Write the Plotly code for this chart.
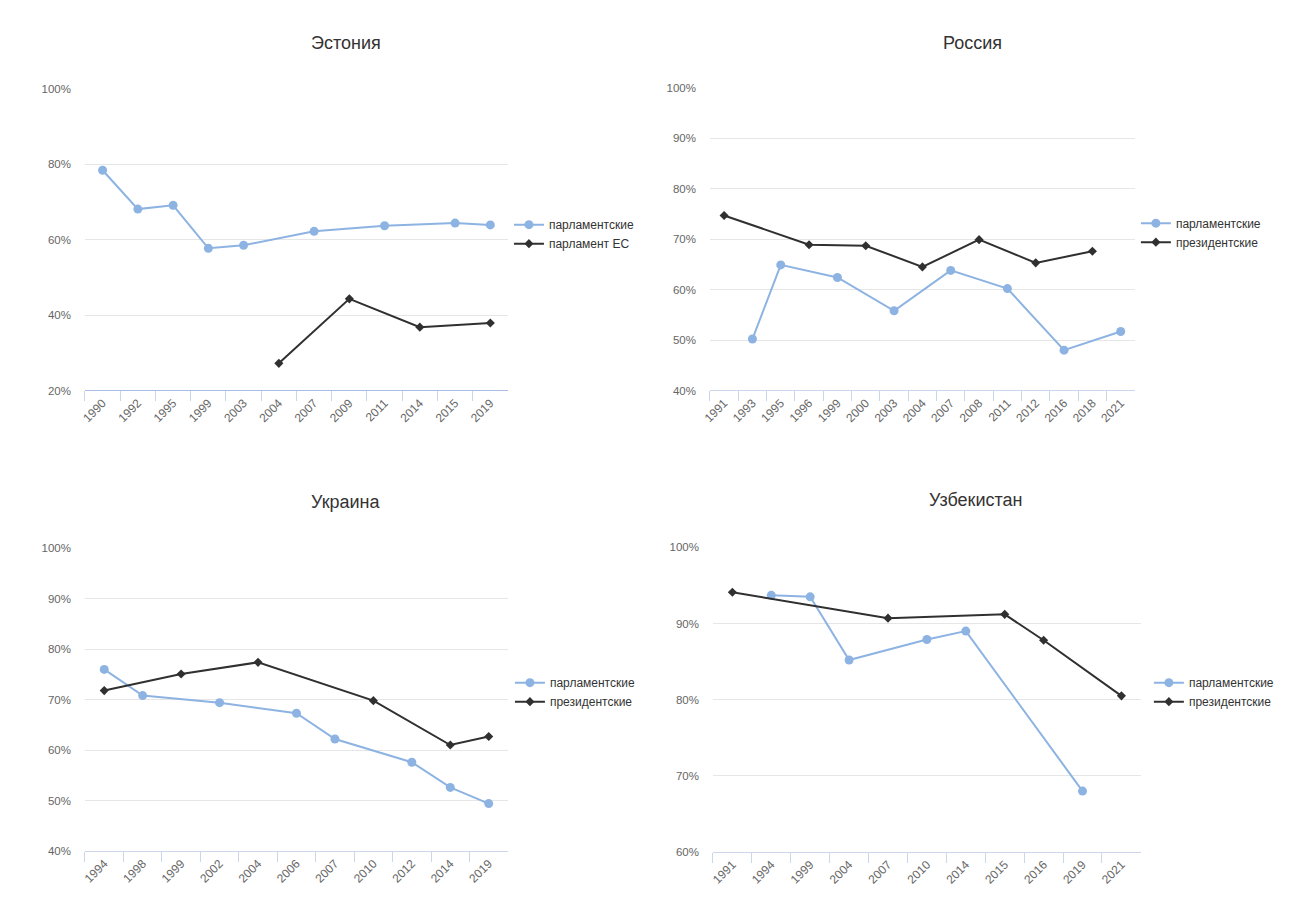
import plotly.graph_objects as go

# ---------------- data ----------------
est_years = ["1990", "1992", "1995", "1999", "2003", "2004", "2007", "2009", "2011", "2014", "2015", "2019"]
est_parl_x = ["1990", "1992", "1995", "1999", "2003", "2007", "2011", "2015", "2019"]
est_parl_y = [78.4, 68.1, 69.1, 57.7, 58.5, 62.2, 63.7, 64.4, 63.9]
est_eu_x = ["2004", "2009", "2014", "2019"]
est_eu_y = [27.2, 44.3, 36.8, 37.9]

rus_years = ["1991", "1993", "1995", "1996", "1999", "2000", "2003", "2004", "2007", "2008", "2011", "2012", "2016", "2018", "2021"]
rus_parl_x = ["1993", "1995", "1999", "2003", "2007", "2011", "2016", "2021"]
rus_parl_y = [50.2, 64.9, 62.4, 55.8, 63.8, 60.2, 48.0, 51.7]
rus_pres_x = ["1991", "1996", "2000", "2004", "2008", "2012", "2018"]
rus_pres_y = [74.7, 68.9, 68.7, 64.5, 69.9, 65.3, 67.6]

ukr_years = ["1994", "1998", "1999", "2002", "2004", "2006", "2007", "2010", "2012", "2014", "2019"]
ukr_parl_x = ["1994", "1998", "2002", "2006", "2007", "2012", "2014", "2019"]
ukr_parl_y = [76.0, 70.8, 69.4, 67.3, 62.2, 57.6, 52.6, 49.4]
ukr_pres_x = ["1994", "1999", "2004", "2010", "2014", "2019"]
ukr_pres_y = [71.8, 75.1, 77.4, 69.8, 61.0, 62.7]

uzb_years = ["1991", "1994", "1999", "2004", "2007", "2010", "2014", "2015", "2016", "2019", "2021"]
uzb_parl_x = ["1994", "1999", "2004", "2010", "2014", "2019"]
uzb_parl_y = [93.7, 93.5, 85.2, 87.9, 89.0, 68.0]
uzb_pres_x = ["1991", "2007", "2015", "2016", "2021"]
uzb_pres_y = [94.1, 90.7, 91.2, 87.8, 80.5]

titles = ["Эстония", "Россия", "Украина", "Узбекистан"]
name_parl = "парламентские"
name_eu = "парламент ЕС"
name_pres = "президентские"

# ---------------- styling ----------------
W, H = 1311, 919
BLUE = "#8db3e2"
DARK = "#303030"
FONT = "Liberation Sans, Arial, sans-serif"


# pixel position on the photographed page -> paper coordinate
def px_x(p):
    return ((p - 8.0) / 0.994) / W


def px_y(p):
    return 1 - ((p - 5.1) / 0.988) / H


panels = [
    dict(years=est_years,
         series=[(est_parl_x, est_parl_y, name_parl, "blue"), (est_eu_x, est_eu_y, name_eu, "dark")],
         xd=(85, 508), yd=(88, 390), yr=(20, 100), dt=20, tpos=(346, 42), lpos=(509, 233.5),
         axcolor="#a9bde5"),
    dict(years=rus_years,
         series=[(rus_parl_x, rus_parl_y, name_parl, "blue"), (rus_pres_x, rus_pres_y, name_pres, "dark")],
         xd=(710, 1135), yd=(87, 390), yr=(40, 100), dt=10, tpos=(973, 42), lpos=(1136, 232),
         axcolor="#ccd6eb"),
    dict(years=ukr_years,
         series=[(ukr_parl_x, ukr_parl_y, name_parl, "blue"), (ukr_pres_x, ukr_pres_y, name_pres, "dark")],
         xd=(85, 508), yd=(548, 851), yr=(40, 100), dt=10, tpos=(346, 502), lpos=(510, 692),
         axcolor="#ccd6eb"),
    dict(years=uzb_years,
         series=[(uzb_parl_x, uzb_parl_y, name_parl, "blue"), (uzb_pres_x, uzb_pres_y, name_pres, "dark")],
         xd=(713, 1141), yd=(547, 852), yr=(60, 100), dt=10, tpos=(976, 500), lpos=(1149, 692),
         axcolor="#ccd6eb"),
]

fig = go.Figure()
layout = dict(
    width=W, height=H,
    margin=dict(l=0, r=0, t=0, b=0),
    paper_bgcolor="white", plot_bgcolor="white",
    font=dict(family=FONT, color="#333333"),
    annotations=[],
)

for i, p in enumerate(panels):
    k = "" if i == 0 else str(i + 1)
    xa = "x" + k
    ya = "y" + k
    leg = "legend" + k
    for xs, ys, nm, kind in p["series"]:
        if kind == "blue":
            line = dict(color=BLUE, width=2)
            marker = dict(color=BLUE, size=9, symbol="circle")
        else:
            line = dict(color=DARK, width=2)
            marker = dict(color=DARK, size=7, symbol="diamond")
        fig.add_trace(go.Scatter(
            x=xs, y=ys, name=nm, mode="lines+markers",
            line=line, marker=marker, xaxis=xa, yaxis=ya, legend=leg,
            hovertemplate="%{x}: %{y}%<extra>" + nm + "</extra>",
        ))
    n = len(p["years"])
    layout["xaxis" + k] = dict(
        domain=[px_x(p["xd"][0]), px_x(p["xd"][1])],
        anchor=ya, type="category",
        categoryorder="array", categoryarray=p["years"],
        range=[-0.5, n - 0.5],
        tickson="boundaries", ticks="outside", ticklen=10, tickcolor="#ccd6eb", tickwidth=1,
        showline=True, linecolor=p["axcolor"], linewidth=1,
        showgrid=False, zeroline=False,
        tickangle=-45, tickfont=dict(size=12, color="#666666", family=FONT),
        fixedrange=True,
    )
    layout["yaxis" + k] = dict(
        domain=[px_y(p["yd"][1]), px_y(p["yd"][0])],
        anchor=xa, range=list(p["yr"]), dtick=p["dt"], tick0=0,
        ticksuffix="%", showgrid=True, gridcolor="#e6e6e6", gridwidth=1,
        zeroline=False, showline=False, ticks="",
        ticklabelstandoff=13,
        tickfont=dict(size=11.5, color="#666666", family=FONT),
        fixedrange=True,
    )
    layout[leg] = dict(
        x=px_x(p["lpos"][0]), y=px_y(p["lpos"][1]),
        xanchor="left", yanchor="middle",
        bgcolor="rgba(0,0,0,0)", borderwidth=0,
        font=dict(size=12, color="#333333", family=FONT),
        tracegroupgap=0,
    )
    layout["annotations"].append(dict(
        text=titles[i], x=px_x(p["tpos"][0]), y=px_y(p["tpos"][1]),
        xref="paper", yref="paper", xanchor="center", yanchor="middle",
        showarrow=False, font=dict(size=18, color="#333333", family=FONT),
    ))

fig.update_layout(**layout)
fig.write_html(
    "out.html",
    config={"displayModeBar": False},
    post_script="document.body.style.margin='0';document.body.style.overflow='hidden';",
)
